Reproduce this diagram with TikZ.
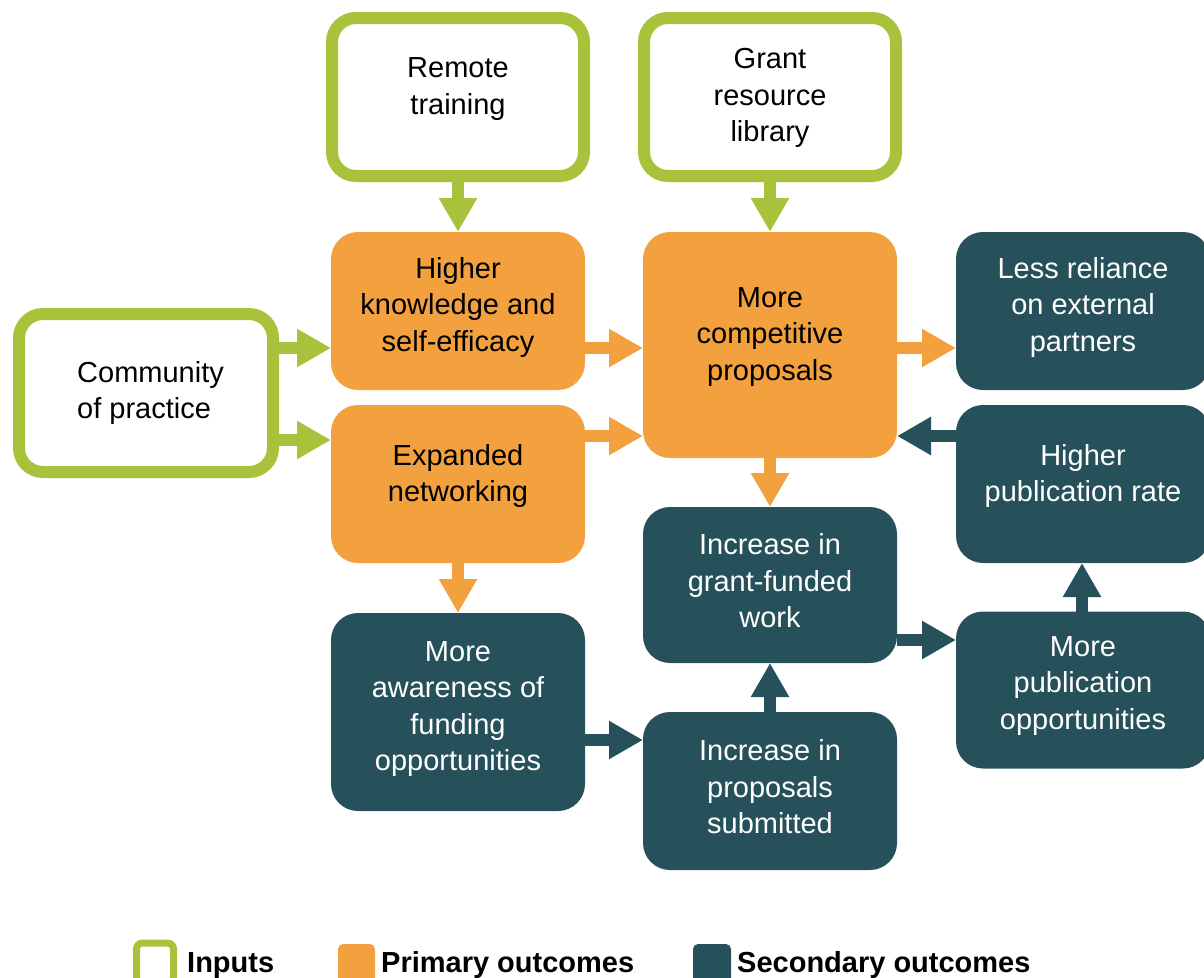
\documentclass[tikz,border=0pt]{standalone}
\usepackage{fontspec}
\setmainfont{Liberation Sans}
\usetikzlibrary{arrows.meta, positioning}

\definecolor{ingreen}{HTML}{A9C23B}
\definecolor{prorange}{HTML}{F3A13F}
\definecolor{secteal}{HTML}{26505A}

\tikzset{
	inbox/.style={draw=ingreen, line width=12pt, rounded corners=24pt, fill=white, minimum width=252pt, minimum height=158pt, outer sep=6pt},
	pbox/.style={fill=prorange, rounded corners=27pt, minimum width=254pt, minimum height=158pt, outer sep=0pt},
	sbox/.style={fill=secteal, rounded corners=27pt, minimum width=254pt, minimum height=158pt, outer sep=0pt},
	btxt/.style={align=center, font=\fontsize{29}{36.5}\selectfont, text=black, inner sep=0pt},
	wtxt/.style={btxt, text=white},
	arr/.style={line width=12pt, -{Triangle[width=36pt, length=34pt]}},
	garr/.style={arr, draw=ingreen},
	parr/.style={arr, draw=prorange},
	sarr/.style={arr, draw=secteal},
	keytxt/.style={anchor=base west, font=\fontsize{29}{34}\selectfont\bfseries, inner sep=0pt}
}

\begin{document}
\begin{tikzpicture}[x=1pt, y=-1pt]
		\useasboundingbox (0,0) rectangle (1204,977);
		
		% inputs
		\node[inbox] (remote) at (458,97) {};
		\node[btxt] (remotet) at ([yshift=8]remote.center) {Remote\\training};
		\node[inbox] (grant) at (770,97) {};
		\node[btxt] (grantt) at ([yshift=-1]grant.center) {Grant\\resource\\library};
		\node[inbox, minimum width=254pt] (comm) at (146,393) {};
		\node[btxt, align=left, anchor=west] (commt) at (77,393) {Community\\of practice};
		
		% primary outcomes
		\node[pbox] (know) at (458,311) {};
		\node[btxt] (knowt) at ([yshift=4]know.center) {Higher\\knowledge and\\self-efficacy};
		\node[pbox] (netw) at (458,484) {};
		\node[btxt] (netwt) at ([yshift=8]netw.center) {Expanded\\networking};
		\node[pbox, minimum height=226pt] (comp) at (770,345) {};
		\node[btxt] (compt) at ([yshift=8]comp.center) {More\\competitive\\proposals};
		
		% secondary outcomes
		\node[sbox] (reli) at (1083,311) {};
		\node[wtxt] (relit) at ([yshift=4]reli.center) {Less reliance\\on external\\partners};
		\node[sbox] (rate) at (1083,484) {};
		\node[wtxt] (ratet) at ([yshift=8]rate.center) {Higher\\publication rate};
		\node[sbox, minimum height=156pt] (work) at (770,585) {};
		\node[wtxt] (workt) at ([yshift=4]work.center) {Increase in\\grant-funded\\work};
		\node[sbox, minimum height=198pt] (aware) at (458,712) {};
		\node[wtxt] (awaret) at ([yshift=3]aware.center) {More\\awareness of\\funding\\opportunities};
		\node[sbox] (subm) at (770,791) {};
		\node[wtxt] (submt) at ([yshift=4]subm.center) {Increase in\\proposals\\submitted};
		\node[sbox, minimum height=157pt] (popp) at (1083,690) {};
		\node[wtxt] (poppt) at ([yshift=4]popp.center) {More\\publication\\opportunities};
		
		% arrows out of the inputs
		\draw[garr] (remote.south) -- (know.north);
		\draw[garr] (grant.south) -- (comp.north);
		\draw[garr] (comm.east |- 0,348) -- (know.west |- 0,348);
		\draw[garr] (comm.east |- 0,440) -- (netw.west |- 0,440);
		
		% primary arrows
		\draw[parr] (know.east |- 0,348) -- (comp.west |- 0,348);
		\draw[parr] (netw.east |- 0,436) -- (comp.west |- 0,436);
		\draw[parr] (comp.east |- 0,348) -- (reli.west |- 0,348);
		\draw[parr] (comp.south) -- (work.north);
		\draw[parr] (netw.south) -- (aware.north);
		
		% secondary arrows
		\draw[sarr] (rate.west |- 0,436) -- (comp.east |- 0,436);
		\draw[sarr] (aware.east |- 0,740) -- (subm.west |- 0,740);
		\draw[sarr] (subm.north) -- (work.south);
		\draw[sarr] (work.east |- 0,640) -- (popp.west |- 0,640);
		\draw[sarr] (popp.north -| 1082,0) -- (rate.south -| 1082,0);
		
		% legend
		\node[draw=ingreen, line width=7pt, rounded corners=6pt, fill=white, minimum width=37pt, minimum height=40pt, inner sep=0pt] (kin) at (155,963) {};
		\node[keytxt] (kint) at (187,972) {Inputs};
		\node[fill=prorange, rounded corners=5pt, minimum width=37pt, minimum height=40pt, inner sep=0pt] (kpr) at (356.5,964) {};
		\node[keytxt] (kprt) at (381,972) {Primary outcomes};
		\node[fill=secteal, rounded corners=5pt, minimum width=38pt, minimum height=40pt, inner sep=0pt] (kse) at (712,964) {};
		\node[keytxt] (kset) at (737,972) {Secondary outcomes};
\end{tikzpicture}
\end{document}
